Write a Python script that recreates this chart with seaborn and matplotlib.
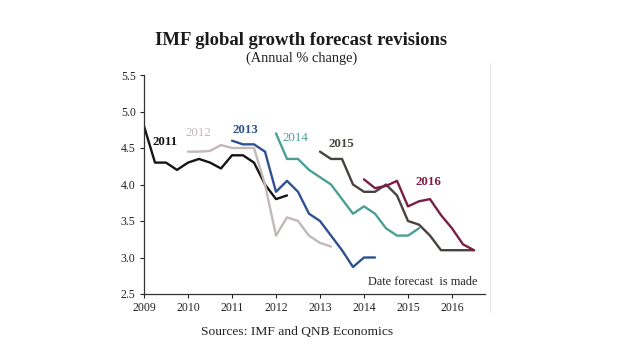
#IMF global growth forecast revisions
import numpy as np
import pandas as pd
import matplotlib
matplotlib.use("Agg")
import matplotlib.pyplot as plt
import seaborn as sns
from matplotlib.lines import Line2D

#Forecast vintages: first forecast date, then quarterly revisions
years = ["2011", "2012", "2013", "2014", "2015", "2016"]
start_dates = [2009.0, 2010.0, 2011.0, 2012.0, 2013.0, 2014.0]
f2011 = [4.8, 4.3, 4.3, 4.2, 4.3, 4.35, 4.3, 4.22, 4.4, 4.4, 4.3, 4.0, 3.8, 3.85]
f2012 = [4.45, 4.45, 4.46, 4.54, 4.5, 4.5, 4.5, 4.0, 3.3, 3.55, 3.5, 3.3, 3.2, 3.15]
f2013 = [4.6, 4.55, 4.55, 4.45, 3.9, 4.05, 3.9, 3.6, 3.5, 3.3, 3.1, 2.87, 3.0, 3.0]
f2014 = [4.7, 4.35, 4.35, 4.2, 4.1, 4.0, 3.8, 3.6, 3.7, 3.6, 3.4, 3.3, 3.3, 3.4]
f2015 = [4.45, 4.35, 4.35, 4.0, 3.9, 3.9, 4.0, 3.85, 3.5, 3.45, 3.3, 3.1, 3.1, 3.1, 3.1]
f2016 = [4.07, 3.95, 3.98, 4.05, 3.7, 3.77, 3.8, 3.58, 3.4, 3.18, 3.1]
x_ticks = [2009, 2010, 2011, 2012, 2013, 2014, 2015, 2016]
y_ticks = [2.5, 3.0, 3.5, 4.0, 4.5, 5.0, 5.5]

colors = {"2011": "#141414", "2012": "#c2b8b8", "2013": "#2f5191",
          "2014": "#4b9f95", "2015": "#47423e", "2016": "#7b1e45"}

#long table for seaborn
rows = []
for yr, st, vals in zip(years, start_dates, [f2011, f2012, f2013, f2014, f2015, f2016]):
    for k, v in enumerate(vals):
        rows.append({"date": st + 0.25 * k, "growth": v, "year": yr})
df = pd.DataFrame(rows)

sns.set_style("ticks")
plt.rcParams['font.family'] = ['Liberation Serif', 'DejaVu Serif']

fig = plt.figure(figsize=(6.2, 3.55), dpi=100)
ax = fig.add_axes([144/620, 61/355, (485-144)/620, (294-75)/355])
sns.lineplot(data=df, x="date", y="growth", hue="year", palette=colors,
             linewidth=1.7, legend=False, ax=ax, sort=False, estimator=None)

ax.set_xlim(2009, 2016.75)
ax.set_ylim(2.5, 5.5)
ax.set_xticks(x_ticks)
ax.set_xticklabels([str(t) for t in x_ticks])
ax.set_yticks(y_ticks)
ax.set_yticklabels(["%.1f" % t for t in y_ticks])
ax.tick_params(axis="both", direction="out", length=3, width=0.8,
               labelsize=8.5, colors="#222222", pad=3)
ax.set_xlabel("")
ax.set_ylabel("")
sns.despine(ax=ax)
for s in ["left", "bottom"]:
    ax.spines[s].set_color("#333333")
    ax.spines[s].set_linewidth(0.9)

#series labels
lab_pos = {"2011": (2009.49, 4.58), "2012": (2010.23, 4.70), "2013": (2011.31, 4.75),
           "2014": (2012.43, 4.64), "2015": (2013.49, 4.55), "2016": (2015.46, 4.03)}
lab_bold = {"2011": "bold", "2012": "normal", "2013": "bold",
            "2014": "normal", "2015": "bold", "2016": "bold"}
for yr in years:
    ax.text(lab_pos[yr][0], lab_pos[yr][1], yr, color=colors[yr], fontsize=9.3,
            fontweight=lab_bold[yr], ha="center", va="center")
ax.text(2015.34, 2.66, "Date forecast  is made", fontsize=8.8, ha="center",
        va="center", color="#222222")

fig.text(0.485, 0.887, "IMF global growth forecast revisions", fontsize=13.4,
         fontweight="bold", ha="center", va="center", color="#1a1a1a")
fig.text(0.486, 0.837, "(Annual % change)", fontsize=10.4, ha="center",
         va="center", color="#222222")
fig.text(0.4785, 0.065, "Sources: IMF and QNB Economics", fontsize=9.7,
         ha="center", va="center", color="#222222")

#faint frame edge on the right
fig.add_artist(Line2D([490/620, 490/620], [1-63/355, 1-312/355],
                      color="#e2e2e2", linewidth=0.8))

fig.savefig("out.png", dpi=100)
